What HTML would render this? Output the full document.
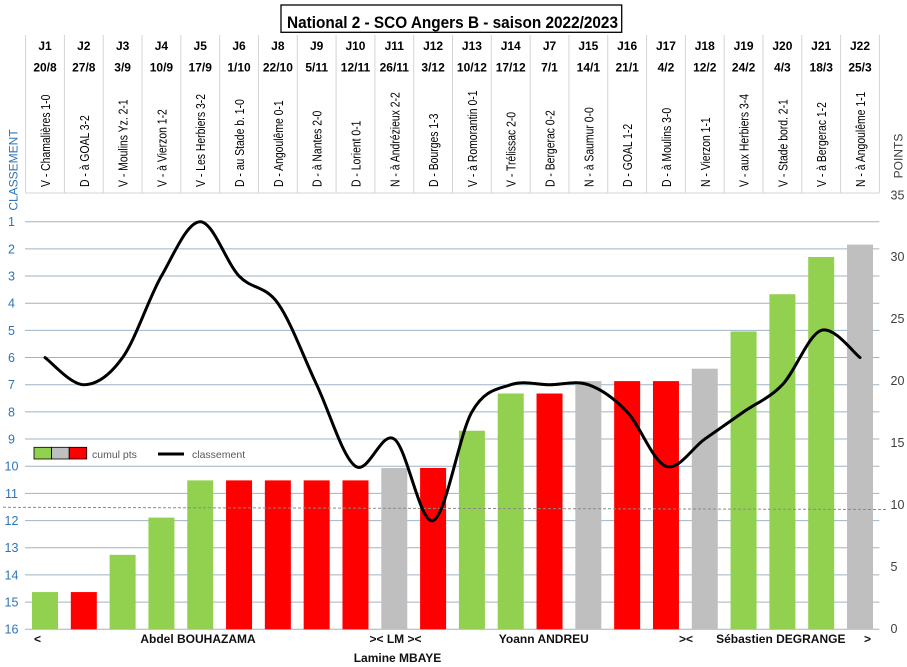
<!DOCTYPE html>
<html><head><meta charset="utf-8"><style>
html,body{margin:0;padding:0;background:#fff;}
svg{display:block;}
text{font-family:"Liberation Sans",Arial,sans-serif;}
</style></head><body>
<svg width="907" height="667" viewBox="0 0 907 667" xmlns="http://www.w3.org/2000/svg">
<rect width="907" height="667" fill="#fff"/>
<!-- title -->
<rect x="281" y="5" width="340.7" height="27.3" fill="#fff" stroke="#000" stroke-width="1.3"/>
<text x="287" y="28" font-size="17" font-weight="bold" textLength="331" lengthAdjust="spacingAndGlyphs">National 2 - SCO Angers B - saison 2022/2023</text>

<!-- header table lines -->
<g stroke="#d4d4d4" stroke-width="1">
<line x1="25.6" y1="35" x2="25.6" y2="193"/><line x1="64.41" y1="35" x2="64.41" y2="193"/><line x1="103.22" y1="35" x2="103.22" y2="193"/><line x1="142.03" y1="35" x2="142.03" y2="193"/><line x1="180.84" y1="35" x2="180.84" y2="193"/><line x1="219.65" y1="35" x2="219.65" y2="193"/><line x1="258.46" y1="35" x2="258.46" y2="193"/><line x1="297.27" y1="35" x2="297.27" y2="193"/><line x1="336.08" y1="35" x2="336.08" y2="193"/><line x1="374.89" y1="35" x2="374.89" y2="193"/><line x1="413.7" y1="35" x2="413.7" y2="193"/><line x1="452.51" y1="35" x2="452.51" y2="193"/><line x1="491.32" y1="35" x2="491.32" y2="193"/><line x1="530.13" y1="35" x2="530.13" y2="193"/><line x1="568.94" y1="35" x2="568.94" y2="193"/><line x1="607.75" y1="35" x2="607.75" y2="193"/><line x1="646.56" y1="35" x2="646.56" y2="193"/><line x1="685.37" y1="35" x2="685.37" y2="193"/><line x1="724.18" y1="35" x2="724.18" y2="193"/><line x1="762.99" y1="35" x2="762.99" y2="193"/><line x1="801.8" y1="35" x2="801.8" y2="193"/><line x1="840.61" y1="35" x2="840.61" y2="193"/><line x1="879.42" y1="35" x2="879.42" y2="193"/>
<line x1="25.6" y1="193" x2="879.42" y2="193"/>
</g>

<!-- J labels -->
<g font-size="12" font-weight="bold" fill="#000" text-anchor="middle">
<text x="45" y="50">J1</text><text x="83.81" y="50">J2</text><text x="122.62" y="50">J3</text><text x="161.43" y="50">J4</text><text x="200.24" y="50">J5</text><text x="239.05" y="50">J6</text><text x="277.86" y="50">J8</text><text x="316.67" y="50">J9</text><text x="355.48" y="50">J10</text><text x="394.29" y="50">J11</text><text x="433.1" y="50">J12</text><text x="471.91" y="50">J13</text><text x="510.72" y="50">J14</text><text x="549.53" y="50">J7</text><text x="588.34" y="50">J15</text><text x="627.15" y="50">J16</text><text x="665.96" y="50">J17</text><text x="704.77" y="50">J18</text><text x="743.58" y="50">J19</text><text x="782.39" y="50">J20</text><text x="821.2" y="50">J21</text><text x="860.01" y="50">J22</text>
<text x="45" y="71.5">20/8</text><text x="83.81" y="71.5">27/8</text><text x="122.62" y="71.5">3/9</text><text x="161.43" y="71.5">10/9</text><text x="200.24" y="71.5">17/9</text><text x="239.05" y="71.5">1/10</text><text x="277.86" y="71.5">22/10</text><text x="316.67" y="71.5">5/11</text><text x="355.48" y="71.5">12/11</text><text x="394.29" y="71.5">26/11</text><text x="433.1" y="71.5">3/12</text><text x="471.91" y="71.5">10/12</text><text x="510.72" y="71.5">17/12</text><text x="549.53" y="71.5">7/1</text><text x="588.34" y="71.5">14/1</text><text x="627.15" y="71.5">21/1</text><text x="665.96" y="71.5">4/2</text><text x="704.77" y="71.5">12/2</text><text x="743.58" y="71.5">24/2</text><text x="782.39" y="71.5">4/3</text><text x="821.2" y="71.5">18/3</text><text x="860.01" y="71.5">25/3</text>
</g>

<!-- match labels -->
<g font-size="13" fill="#000">
<text transform="translate(50,187) rotate(-90) scale(0.8,1)">V - Chamalières 1-0</text>
<text transform="translate(88.81,187) rotate(-90) scale(0.8,1)">D - à GOAL 3-2</text>
<text transform="translate(127.62,187) rotate(-90) scale(0.8,1)">V - Moulins Yz. 2-1</text>
<text transform="translate(166.43,187) rotate(-90) scale(0.8,1)">V - à Vierzon 1-2</text>
<text transform="translate(205.24,187) rotate(-90) scale(0.8,1)">V - Les Herbiers 3-2</text>
<text transform="translate(244.05,187) rotate(-90) scale(0.8,1)">D - au Stade b. 1-0</text>
<text transform="translate(282.86,187) rotate(-90) scale(0.8,1)">D - Angoulême 0-1</text>
<text transform="translate(321.67,187) rotate(-90) scale(0.8,1)">D - à Nantes 2-0</text>
<text transform="translate(360.48,187) rotate(-90) scale(0.8,1)">D - Lorient 0-1</text>
<text transform="translate(399.29,187) rotate(-90) scale(0.8,1)">N - à Andrézieux 2-2</text>
<text transform="translate(438.1,187) rotate(-90) scale(0.8,1)">D - Bourges 1-3</text>
<text transform="translate(476.91,187) rotate(-90) scale(0.8,1)">V - à Romorantin 0-1</text>
<text transform="translate(515.72,187) rotate(-90) scale(0.8,1)">V - Trélissac 2-0</text>
<text transform="translate(554.53,187) rotate(-90) scale(0.8,1)">D - Bergerac 0-2</text>
<text transform="translate(593.34,187) rotate(-90) scale(0.8,1)">N - à Saumur 0-0</text>
<text transform="translate(632.15,187) rotate(-90) scale(0.8,1)">D - GOAL 1-2</text>
<text transform="translate(670.96,187) rotate(-90) scale(0.8,1)">D - à Moulins 3-0</text>
<text transform="translate(709.77,187) rotate(-90) scale(0.8,1)">N - Vierzon 1-1</text>
<text transform="translate(748.58,187) rotate(-90) scale(0.8,1)">V - aux Herbiers 3-4</text>
<text transform="translate(787.39,187) rotate(-90) scale(0.8,1)">V - Stade bord. 2-1</text>
<text transform="translate(826.2,187) rotate(-90) scale(0.8,1)">V - à Bergerac 1-2</text>
<text transform="translate(865.01,187) rotate(-90) scale(0.8,1)">N - à Angoulême 1-1</text>
</g>

<!-- axis titles -->
<text transform="translate(17.5,170) rotate(-90)" font-size="12" fill="#2E75B6" text-anchor="middle">CLASSEMENT</text>
<text transform="translate(902.5,156) rotate(-90)" font-size="12" fill="#404040" text-anchor="middle">POINTS</text>

<!-- gridlines -->
<g stroke="#9FB4C7" stroke-width="1">
<line x1="25" y1="221.7" x2="879.4" y2="221.7"/><line x1="25" y1="248.87" x2="879.4" y2="248.87"/><line x1="25" y1="276.04" x2="879.4" y2="276.04"/><line x1="25" y1="303.21" x2="879.4" y2="303.21"/><line x1="25" y1="330.38" x2="879.4" y2="330.38"/><line x1="25" y1="357.55" x2="879.4" y2="357.55"/><line x1="25" y1="384.72" x2="879.4" y2="384.72"/><line x1="25" y1="411.89" x2="879.4" y2="411.89"/><line x1="25" y1="439.06" x2="879.4" y2="439.06"/><line x1="25" y1="466.23" x2="879.4" y2="466.23"/><line x1="25" y1="493.4" x2="879.4" y2="493.4"/><line x1="25" y1="520.57" x2="879.4" y2="520.57"/><line x1="25" y1="547.74" x2="879.4" y2="547.74"/><line x1="25" y1="574.91" x2="879.4" y2="574.91"/><line x1="25" y1="602.08" x2="879.4" y2="602.08"/><line x1="25" y1="629.25" x2="879.4" y2="629.25"/>
</g>

<!-- left tick labels -->
<g font-size="12.5" fill="#2E75B6" text-anchor="middle">
<text x="11.5" y="226.2">1</text><text x="11.5" y="253.4">2</text><text x="11.5" y="280.5">3</text><text x="11.5" y="307.7">4</text><text x="11.5" y="334.9">5</text><text x="11.5" y="362">6</text><text x="11.5" y="389.2">7</text><text x="11.5" y="416.4">8</text><text x="11.5" y="443.6">9</text><text x="11.5" y="470.7">10</text><text x="11.5" y="497.9">11</text><text x="11.5" y="525.1">12</text><text x="11.5" y="552.2">13</text><text x="11.5" y="579.4">14</text><text x="11.5" y="606.6">15</text><text x="11.5" y="633.7">16</text>
</g>
<!-- right tick labels -->
<g font-size="12.5" fill="#404040">
<text x="890.5" y="633">0</text><text x="890.5" y="571">5</text><text x="890.5" y="509">10</text><text x="890.5" y="447">15</text><text x="890.5" y="385">20</text><text x="890.5" y="323">25</text><text x="890.5" y="261">30</text><text x="890.5" y="199.5">35</text>
</g>

<!-- bars -->
<g>
<rect x="32" y="592.07" width="26" height="37.23" fill="#92D050"/>
<rect x="70.81" y="592.07" width="26" height="37.23" fill="#FF0000"/>
<rect x="109.62" y="554.84" width="26" height="74.46" fill="#92D050"/>
<rect x="148.43" y="517.61" width="26" height="111.69" fill="#92D050"/>
<rect x="187.24" y="480.38" width="26" height="148.92" fill="#92D050"/>
<rect x="226.05" y="480.38" width="26" height="148.92" fill="#FF0000"/>
<rect x="264.86" y="480.38" width="26" height="148.92" fill="#FF0000"/>
<rect x="303.67" y="480.38" width="26" height="148.92" fill="#FF0000"/>
<rect x="342.48" y="480.38" width="26" height="148.92" fill="#FF0000"/>
<rect x="381.29" y="467.97" width="26" height="161.33" fill="#BFBFBF"/>
<rect x="420.1" y="467.97" width="26" height="161.33" fill="#FF0000"/>
<rect x="458.91" y="430.74" width="26" height="198.56" fill="#92D050"/>
<rect x="497.72" y="393.51" width="26" height="235.79" fill="#92D050"/>
<rect x="536.53" y="393.51" width="26" height="235.79" fill="#FF0000"/>
<rect x="575.34" y="381.1" width="26" height="248.2" fill="#BFBFBF"/>
<rect x="614.15" y="381.1" width="26" height="248.2" fill="#FF0000"/>
<rect x="652.96" y="381.1" width="26" height="248.2" fill="#FF0000"/>
<rect x="691.77" y="368.69" width="26" height="260.61" fill="#BFBFBF"/>
<rect x="730.58" y="331.46" width="26" height="297.84" fill="#92D050"/>
<rect x="769.39" y="294.23" width="26" height="335.07" fill="#92D050"/>
<rect x="808.2" y="257" width="26" height="372.3" fill="#92D050"/>
<rect x="847.01" y="244.59" width="26" height="384.71" fill="#BFBFBF"/>
</g>

<!-- dashed reference line -->
<line x1="3" y1="507.3" x2="888" y2="509.5" stroke="#8a8a8a" stroke-width="1" stroke-dasharray="3,2"/>

<!-- classement line -->
<path fill="none" stroke="#000" stroke-width="3" stroke-linejoin="round" stroke-linecap="round"
d="M45,357.55 C51.47,362.08 70.87,384.72 83.81,384.72 C96.75,384.72 109.68,375.66 122.62,357.55 C135.56,339.44 148.49,298.68 161.43,276.04 C174.37,253.4 187.3,221.7 200.24,221.7 C213.18,221.7 226.11,262.46 239.05,276.04 C251.99,289.63 264.92,285.1 277.86,303.21 C290.8,321.32 303.73,357.55 316.67,384.72 C329.61,411.89 342.54,457.17 355.48,466.23 C368.42,475.29 381.35,430 394.29,439.06 C407.23,448.12 420.16,525.1 433.1,520.57 C446.04,516.04 458.97,434.53 471.91,411.89 C484.85,389.25 497.78,389.25 510.72,384.72 C523.66,380.19 536.59,384.72 549.53,384.72 C562.47,384.72 575.4,380.19 588.34,384.72 C601.28,389.25 614.21,398.31 627.15,411.89 C640.09,425.48 653.02,461.7 665.96,466.23 C678.9,470.76 691.83,448.12 704.77,439.06 C717.71,430 730.64,420.95 743.58,411.89 C756.52,402.83 769.45,398.31 782.39,384.72 C795.33,371.14 808.26,334.91 821.2,330.38 C834.14,325.85 853.54,353.02 860.01,357.55"/>

<!-- legend -->
<rect x="34" y="447.3" width="17.6" height="11.7" fill="#92D050" stroke="#000" stroke-width="0.8"/>
<rect x="51.6" y="447.3" width="17.6" height="11.7" fill="#BFBFBF" stroke="#000" stroke-width="0.8"/>
<rect x="69.2" y="447.3" width="17.5" height="11.7" fill="#FF0000" stroke="#000" stroke-width="0.8"/>
<text x="92" y="457.8" font-size="10.5" fill="#595959">cumul pts</text>
<line x1="158" y1="454" x2="184" y2="454" stroke="#000" stroke-width="3"/>
<text x="192" y="457.8" font-size="10.5" fill="#595959">classement</text>

<!-- bottom labels -->
<g font-size="12" font-weight="bold" fill="#111" text-anchor="middle">
<text x="37.5" y="643">&lt;</text>
<text x="198" y="643">Abdel BOUHAZAMA</text>
<text x="395.5" y="643">&gt;&lt; LM &gt;&lt;</text>
<text x="397.5" y="662">Lamine MBAYE</text>
<text x="543.8" y="643">Yoann ANDREU</text>
<text x="686" y="643">&gt;&lt;</text>
<text x="780.8" y="643">Sébastien DEGRANGE</text>
<text x="867.5" y="643">&gt;</text>
</g>
</svg>
</body></html>
